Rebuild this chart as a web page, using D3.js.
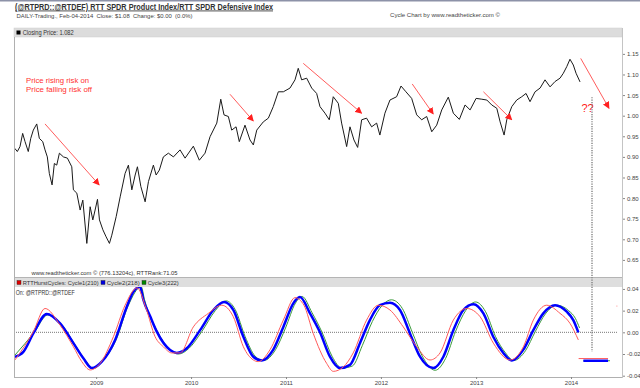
<!DOCTYPE html>
<html>
<head>
<meta charset="utf-8">
<script src="https://cdn.jsdelivr.net/npm/d3@7"></script>
<style>
  body { margin: 0; background: #fff; }
  svg { display: block; font-family: "Liberation Sans", Arial, sans-serif; }
</style>
</head>
<body>
<svg id="chart"></svg>
<script>
// ---- data (decimal years) ----
const priceYears = [2008.144, 2008.172, 2008.200, 2008.228, 2008.253, 2008.287, 2008.313, 2008.340, 2008.376, 2008.403,
  2008.439, 2008.463, 2008.487, 2008.508, 2008.537, 2008.561, 2008.586, 2008.614, 2008.656, 2008.698,
  2008.744, 2008.761, 2008.797, 2008.832, 2008.860, 2008.902, 2008.937, 2008.965, 2008.989, 2009.014,
  2009.035, 2009.071, 2009.105, 2009.140, 2009.165, 2009.211, 2009.253, 2009.305, 2009.340, 2009.376,
  2009.411, 2009.435, 2009.471, 2009.516, 2009.551, 2009.603, 2009.632, 2009.666, 2009.708, 2009.761,
  2009.814, 2009.884, 2009.937, 2010.024, 2010.087, 2010.147, 2010.200, 2010.271, 2010.313, 2010.347,
  2010.393, 2010.428, 2010.474, 2010.508, 2010.568, 2010.621, 2010.656, 2010.692, 2010.761, 2010.814,
  2010.866, 2010.919, 2010.972, 2011.042, 2011.095, 2011.129, 2011.165, 2011.218, 2011.271, 2011.323,
  2011.358, 2011.411, 2011.456, 2011.498, 2011.551, 2011.586, 2011.639, 2011.674, 2011.716, 2011.755,
  2011.797, 2011.849, 2011.902, 2011.955, 2011.989, 2012.042, 2012.095, 2012.165, 2012.211, 2012.263,
  2012.323, 2012.376, 2012.428, 2012.481, 2012.534, 2012.586, 2012.639, 2012.708, 2012.761, 2012.824,
  2012.884, 2012.937, 2013.000, 2013.060, 2013.113, 2013.165, 2013.218, 2013.253, 2013.295, 2013.323,
  2013.376, 2013.428, 2013.481, 2013.526, 2013.568, 2013.621, 2013.674, 2013.726, 2013.779, 2013.832,
  2013.884, 2013.919, 2013.955, 2013.989, 2014.024, 2014.053, 2014.095];
const priceValues = [0.921, 0.913, 0.925, 0.957, 0.937, 0.913, 0.945, 0.965, 0.980, 0.945,
  0.937, 0.917, 0.900, 0.860, 0.832, 0.884, 0.880, 0.909, 0.900, 0.897,
  0.876, 0.820, 0.812, 0.771, 0.795, 0.690, 0.779, 0.747, 0.771, 0.797,
  0.747, 0.723, 0.706, 0.690, 0.710, 0.755, 0.803, 0.860, 0.880, 0.820,
  0.856, 0.876, 0.828, 0.791, 0.840, 0.880, 0.856, 0.868, 0.900, 0.909,
  0.900, 0.917, 0.897, 0.926, 0.892, 0.909, 0.949, 0.982, 1.040, 1.002,
  0.998, 0.965, 0.973, 0.937, 0.977, 0.941, 0.929, 0.965, 0.985, 0.994,
  1.022, 1.058, 1.058, 1.067, 1.087, 1.115, 1.087, 1.091, 1.067, 1.054,
  1.022, 1.006, 0.990, 1.046, 1.030, 0.982, 0.925, 0.973, 0.941, 0.923,
  0.990, 0.994, 0.973, 0.982, 0.953, 1.006, 1.038, 1.046, 1.072, 1.058,
  1.042, 1.002, 0.990, 0.998, 0.961, 0.977, 1.014, 1.045, 1.006, 0.991,
  1.026, 1.014, 1.042, 1.040, 1.038, 1.026, 1.018, 0.985, 0.953, 0.990,
  1.022, 1.038, 1.046, 1.054, 1.034, 1.058, 1.067, 1.087, 1.070, 1.083,
  1.091, 1.103, 1.119, 1.137, 1.123, 1.103, 1.082];

const cycle1Years = [2008.147, 2008.340, 2008.463, 2008.621, 2008.761, 2008.849, 2008.937, 2009.042, 2009.182, 2009.305,
  2009.432, 2009.526, 2009.621, 2009.708, 2009.797, 2009.884, 2010.024, 2010.182, 2010.323, 2010.445,
  2010.551, 2010.656, 2010.708, 2010.832, 2010.972, 2011.095, 2011.189, 2011.287, 2011.428, 2011.498,
  2011.603, 2011.708, 2011.849, 2011.972, 2012.095, 2012.235, 2012.376, 2012.516, 2012.621, 2012.761,
  2012.902, 2013.042, 2013.182, 2013.358, 2013.498, 2013.603, 2013.744, 2013.884, 2013.989, 2014.077];
const cycle1Values = [-0.0255, 0.0006, 0.022, 0.0067, -0.0133, -0.027, -0.0347, -0.0286, -0.004, 0.025,
  0.041, 0.022, -0.004, -0.0133, -0.019, -0.019, 0.005, 0.0175, 0.025, 0.0144,
  -0.0133, -0.0255, -0.027, -0.016, 0.0113, 0.032, 0.025, -0.001, -0.0286, -0.036,
  -0.032, -0.019, 0.0113, 0.025, 0.0206, 0.005, -0.0133, -0.0255, -0.019, 0.0113,
  0.022, 0.0144, -0.010, -0.0255, -0.0133, 0.0113, 0.025, 0.0175, 0.0083, -0.007];

const cycle2Years = [2008.147, 2008.235, 2008.340, 2008.481, 2008.621, 2008.761, 2008.866, 2008.955, 2009.060, 2009.200,
  2009.323, 2009.389, 2009.463, 2009.498, 2009.568, 2009.639, 2009.779, 2009.849, 2009.955, 2010.095,
  2010.235, 2010.347, 2010.445, 2010.551, 2010.656, 2010.744, 2010.866, 2010.972, 2011.077, 2011.147,
  2011.253, 2011.358, 2011.463, 2011.568, 2011.674, 2011.779, 2011.884, 2011.989, 2012.095, 2012.200,
  2012.305, 2012.411, 2012.551, 2012.656, 2012.761, 2012.866, 2012.972, 2013.077, 2013.182, 2013.287,
  2013.376, 2013.498, 2013.603, 2013.708, 2013.832, 2013.955, 2014.024, 2014.077];
const cycle2Values = [-0.0225, -0.018, -0.001, 0.017, 0.0083, -0.010, -0.024, -0.033, -0.027, -0.007,
  0.0236, 0.037, 0.042, 0.0298, 0.015, 0.0006, -0.0163, -0.019, -0.0147, 0.002,
  0.0206, 0.028, 0.0206, -0.004, -0.0225, -0.026, -0.016, 0.005, 0.0267, 0.0325,
  0.0175, 0.000, -0.0225, -0.033, -0.030, -0.010, 0.0113, 0.025, 0.0273, 0.0206,
  -0.001, -0.0225, -0.033, -0.0225, 0.002, 0.0206, 0.026, 0.0175, -0.0043, -0.019,
  -0.026, -0.016, 0.002, 0.0175, 0.025, 0.019, 0.0113, 0.000];

const cycle3Years = [2008.147, 2008.350, 2008.490, 2008.630, 2008.775, 2008.880, 2008.970, 2009.075, 2009.215, 2009.335,
  2009.475, 2009.510, 2009.650, 2009.790, 2009.870, 2009.975, 2010.115, 2010.255, 2010.370, 2010.465,
  2010.570, 2010.675, 2010.765, 2010.890, 2010.995, 2011.100, 2011.170, 2011.275, 2011.380, 2011.485,
  2011.590, 2011.700, 2011.805, 2011.910, 2012.015, 2012.110, 2012.225, 2012.330, 2012.435, 2012.570,
  2012.680, 2012.785, 2012.890, 2012.995, 2013.100, 2013.205, 2013.310, 2013.395, 2013.520, 2013.625,
  2013.730, 2013.850, 2013.975, 2014.045, 2014.090];
const cycle3Values = [-0.021, 0.000, 0.016, 0.008, -0.011, -0.025, -0.033, -0.026, -0.006, 0.024,
  0.042, 0.030, 0.000, -0.017, -0.020, -0.015, 0.001, 0.020, 0.029, 0.021,
  -0.004, -0.022, -0.026, -0.016, 0.004, 0.027, 0.033, 0.018, 0.000, -0.022,
  -0.033, -0.031, -0.012, 0.010, 0.025, 0.030, 0.022, 0.000, -0.022, -0.035,
  -0.024, 0.001, 0.020, 0.028, 0.019, -0.004, -0.019, -0.026, -0.017, 0.001,
  0.017, 0.025, 0.020, 0.013, 0.004];

// flat projection stubs at the right of the cycle panel
const stubs = [
  { color: "#3a9a3a", width: 1, from: 2014.13, to: 2014.41, value: -0.0262 },
  { color: "#0000ff", width: 2.5, from: 2014.13, to: 2014.39, value: -0.0262 },
  { color: "#ff5a5a", width: 1, from: 2014.08, to: 2014.39, value: -0.0242 },
  { color: "#ff5a5a", width: 1, from: 2014.480, to: 2014.487, value: 0.0242 }
];

// red annotation arrows (start / end in data units)
const arrows = [
  { x1: 2008.463, y1: 0.980, x2: 2009.032, y2: 0.832 },
  { x1: 2010.410, y1: 1.052, x2: 2010.656, y2: 0.987 },
  { x1: 2011.182, y1: 1.127, x2: 2011.797, y2: 1.006 },
  { x1: 2012.329, y1: 1.077, x2: 2012.550, y2: 1.004 },
  { x1: 2013.077, y1: 1.058, x2: 2013.376, y2: 0.990 },
  { x1: 2014.102, y1: 1.139, x2: 2014.400, y2: 1.018 }
];

const priceTicks = [0.65, 0.70, 0.75, 0.80, 0.85, 0.90, 0.95, 1.00, 1.05, 1.10, 1.15];
const cycleTicks = [-0.04, -0.02, 0.00, 0.02, 0.04];
const yearTicks = [2009, 2010, 2011, 2012, 2013, 2014];
const legendItems = [
  { color: "#e00000", label: "RTTHurstCycles: Cycle1(210)", x: 17, len: 76 },
  { color: "#0000e0", label: "Cycle2(218)", x: 101, len: 33 },
  { color: "#008800", label: "Cycle3(222)", x: 142, len: 31 }
];

// ---- helpers ----
function toDate(y) {
  const yr = Math.floor(y);
  const s = new Date(yr, 0, 1), e = new Date(yr + 1, 0, 1);
  return new Date(+s + (y - yr) * (e - s));
}

// text with a fixed drawn width, to match the reference's wide small font
function label(parent, x0, y0, size, len, str, color) {
  return parent.append("text").attr("x", x0).attr("y", y0)
    .attr("font-size", size).attr("fill", color || "#333")
    .attr("textLength", len).attr("lengthAdjust", "spacingAndGlyphs")
    .style("white-space", "pre")
    .text(str);
}

const W = 640, H = 388;
const left = 14, right = 622;
const topPanel = { top: 37, bottom: 277 };
const botPanel = { top: 287, bottom: 377 };

const svg = d3.select("#chart").attr("width", W).attr("height", H);

const x = d3.scaleTime().domain([toDate(2008.137), toDate(2014.537)]).range([left, right]);
const yTop = d3.scaleLinear().domain([0.6085, 1.1934]).range([topPanel.bottom, 36]);
const yBot = d3.scaleLinear().domain([-0.0412, 0.0418]).range([botPanel.bottom, botPanel.top]);

// page top rule
svg.append("rect").attr("x", 0).attr("y", 0).attr("width", W).attr("height", 1.5).attr("fill", "#8d92a8");

// title block
label(svg, 15, 9.5, 8.5, 258, "(@RTPRD::@RTDEF) RTT SPDR Product Index/RTT SPDR Defensive Index", "#333")
  .attr("font-weight", "bold").attr("text-decoration", "underline");
label(svg, 16.5, 18, 6, 176, "DAILY-Trading., Feb-04-2014  Close: $1.08  Change: $0.00  (0.0%)", "#444");
label(svg, 390, 17, 6, 110, "Cycle Chart by www.readtheticker.com \u00a9", "#444");

// header bands
svg.append("rect").attr("x", left).attr("y", 28).attr("width", right - left).attr("height", 9)
  .attr("fill", "#dcdcdc").attr("stroke", "#cfcfcf").attr("stroke-width", 0.5);
svg.append("rect").attr("x", 16.5).attr("y", 30.5).attr("width", 4).attr("height", 4).attr("fill", "#000");
label(svg, 22.7, 35, 6.3, 51, "Closing Price: 1.082");

svg.append("rect").attr("x", left).attr("y", 277.5).attr("width", right - left).attr("height", 9.5)
  .attr("fill", "#dedede");
svg.append("line").attr("x1", left).attr("x2", right).attr("y1", 277.5).attr("y2", 277.5)
  .attr("stroke", "#b4b4b4").attr("stroke-width", 1);

const leg = svg.append("g").selectAll("g").data(legendItems).join("g")
  .attr("transform", d => `translate(${d.x},280.5)`);
leg.append("rect").attr("width", 4).attr("height", 4).attr("fill", d => d.color)
  .attr("stroke", "#222").attr("stroke-width", 0.4);
leg.append("text").attr("x", 5.7).attr("y", 4.7).attr("font-size", 6.2).attr("fill", "#333")
  .attr("textLength", d => d.len).attr("lengthAdjust", "spacingAndGlyphs")
  .text(d => d.label);

label(svg, 15.7, 294.5, 6.3, 59, "On: @RTPRD::@RTDEF");

// panel frames
svg.append("line").attr("x1", left + 0.5).attr("x2", left + 0.5).attr("y1", topPanel.top).attr("y2", botPanel.bottom)
  .attr("stroke", "#b0b0b0");
svg.append("line").attr("x1", left).attr("x2", right).attr("y1", botPanel.bottom + 0.5).attr("y2", botPanel.bottom + 0.5)
  .attr("stroke", "#b0b0b0");

// clip paths + arrow head
const defs = svg.append("defs");
defs.append("clipPath").attr("id", "clipTop").append("rect")
  .attr("x", left + 1).attr("y", topPanel.top).attr("width", right - left - 1).attr("height", topPanel.bottom - topPanel.top);
defs.append("clipPath").attr("id", "clipBot").append("rect")
  .attr("x", left + 1).attr("y", botPanel.top).attr("width", right - left - 1).attr("height", botPanel.bottom - botPanel.top);
defs.append("marker").attr("id", "head").attr("viewBox", "0 0 10 10")
  .attr("refX", 9).attr("refY", 5).attr("markerWidth", 7).attr("markerHeight", 7)
  .attr("markerUnits", "userSpaceOnUse").attr("orient", "auto")
  .append("path").attr("d", "M0,0 L10,5 L0,10 z").attr("fill", "#ff2020");

// axes
const fmt = d => d.toFixed(2);
const gyTop = svg.append("g").attr("transform", `translate(${right},0)`)
  .call(d3.axisRight(yTop).tickValues(priceTicks).tickFormat(fmt).tickSize(3).tickPadding(2));
const gyBot = svg.append("g").attr("transform", `translate(${right},0)`)
  .call(d3.axisRight(yBot).tickValues(cycleTicks).tickFormat(fmt).tickSize(3).tickPadding(2));
const gx = svg.append("g").attr("transform", `translate(0,${botPanel.bottom})`)
  .call(d3.axisBottom(x).tickValues(yearTicks.map(y => new Date(y, 0, 1)))
    .tickFormat(d3.timeFormat("%Y")).tickSize(2).tickPadding(2));
[gyTop, gyBot, gx].forEach(g => {
  g.selectAll("text").attr("font-size", 6).attr("fill", "#444")
    .attr("font-family", "'Liberation Sans', Arial, sans-serif");
  g.selectAll("line").attr("stroke", "#888");
  g.select(".domain").remove();
});
svg.append("line").attr("x1", right + 0.5).attr("x2", right + 0.5).attr("y1", 28).attr("y2", botPanel.bottom + 1)
  .attr("stroke", "#c4c4c4");

// price panel
const gTop = svg.append("g").attr("clip-path", "url(#clipTop)");
const priceData = priceYears.map((y, i) => ({ date: toDate(y), value: priceValues[i] }));
gTop.append("path").datum(priceData)
  .attr("fill", "none").attr("stroke", "#1a1a1a").attr("stroke-width", 1)
  .attr("d", d3.line().x(d => x(d.date)).y(d => yTop(d.value)));

gTop.selectAll("line.arrow").data(arrows).join("line").attr("class", "arrow")
  .attr("x1", d => x(toDate(d.x1))).attr("y1", d => yTop(d.y1))
  .attr("x2", d => x(toDate(d.x2))).attr("y2", d => yTop(d.y2))
  .attr("stroke", "#ff4a4a").attr("stroke-width", 0.9).attr("marker-end", "url(#head)");

label(gTop, 26, 82.5, 7.2, 63, "Price rising risk on", "#ff3030");
label(gTop, 26, 91.5, 7.2, 66, "Price falling risk off", "#ff3030");
gTop.append("text").attr("x", 581.5).attr("y", 112).attr("font-size", 11).attr("fill", "#ff2020")
  .text("??");

label(svg, 31.5, 275, 6.2, 146, "www.readtheticker.com \u00a9 (776.13204c), RTTRank:71.05");

// cycle panel
const gBot = svg.append("g").attr("clip-path", "url(#clipBot)");
gBot.append("line").attr("x1", left).attr("x2", 617).attr("y1", yBot(0)).attr("y2", yBot(0))
  .attr("stroke", "#777").attr("stroke-dasharray", "1,1");

const cycleLine = d3.line().curve(d3.curveMonotoneX).x(d => x(d.date)).y(d => yBot(d.value));
const series = [
  { years: cycle3Years, values: cycle3Values, color: "#3a9a3a", width: 1 },
  { years: cycle2Years, values: cycle2Values, color: "#0000ff", width: 2.5 },
  { years: cycle1Years, values: cycle1Values, color: "#ff5a5a", width: 1 }
];
series.forEach(s => {
  gBot.append("path").datum(s.years.map((y, i) => ({ date: toDate(y), value: s.values[i] })))
    .attr("fill", "none").attr("stroke", s.color).attr("stroke-width", s.width)
    .attr("stroke-linejoin", "round").attr("d", cycleLine);
});
gBot.selectAll("line.stub").data(stubs).join("line").attr("class", "stub")
  .attr("x1", d => x(toDate(d.from))).attr("x2", d => x(toDate(d.to)))
  .attr("y1", d => yBot(d.value)).attr("y2", d => yBot(d.value))
  .attr("stroke", d => d.color).attr("stroke-width", d => d.width);

// projection marker line spanning both panels
svg.append("line")
  .attr("x1", x(toDate(2014.221))).attr("x2", x(toDate(2014.221)))
  .attr("y1", yTop(1.045)).attr("y2", yBot(-0.018))
  .attr("stroke", "#777").attr("stroke-width", 1.3).attr("stroke-dasharray", "1.2,1.2");
</script>
</body>
</html>
